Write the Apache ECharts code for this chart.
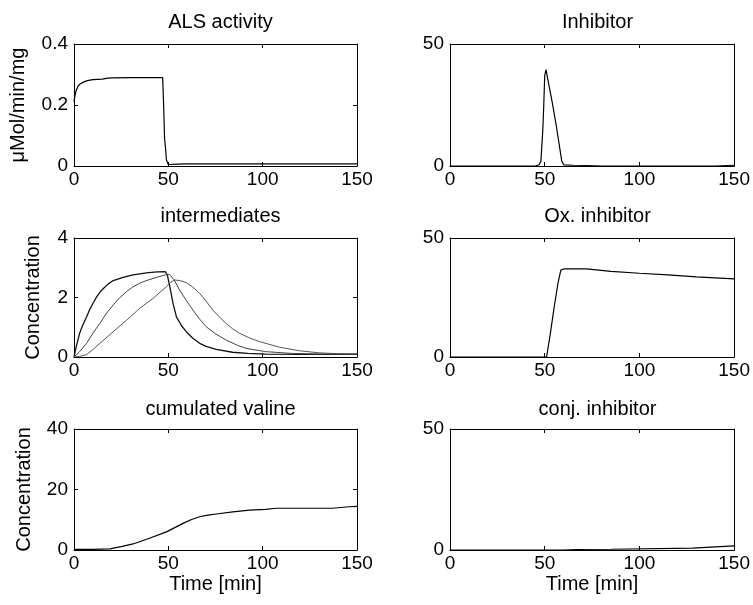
<!DOCTYPE html>
<html>
<head>
<meta charset="utf-8">
<script src="https://cdn.jsdelivr.net/npm/echarts@6/dist/echarts.min.js"></script>
<style>
html,body{margin:0;padding:0;background:#fff;}
#chart{width:753px;height:605px;}
</style>
</head>
<body>
<div id="chart"></div>
<script>
// ---- data ----
const panelTitles = ["ALS activity", "Inhibitor", "intermediates", "Ox. inhibitor", "cumulated valine", "conj. inhibitor"];
const xTicks = [0, 50, 100, 150];

const alsT = [0, 0.5, 1, 2, 3, 5, 7, 10, 15, 18, 20, 30, 40, 47, 47.5, 48, 48.5, 49, 50, 51, 55, 60, 100, 150];
const alsV = [0.21, 0.23, 0.245, 0.26, 0.268, 0.275, 0.28, 0.283, 0.285, 0.288, 0.289, 0.29, 0.29, 0.29, 0.2, 0.09, 0.06, 0.02, 0.005, 0.004, 0.006, 0.007, 0.007, 0.007];

const inhT = [0, 45, 47, 48, 49, 49.5, 50, 50.7, 51.5, 52.5, 54, 56, 58, 59, 60, 65, 72, 80, 140, 150];
const inhV = [0, 0, 0.5, 2, 15, 25, 37, 39.5, 36, 32, 26, 17, 7, 2, 0.5, 0.3, 0.2, 0, 0, 0.3];

const int1T = [0, 1, 2, 3, 4.5, 6.7, 8, 10, 12, 14, 16, 18, 20.8, 26, 31.3, 38.4, 44, 48.4, 49.5, 50.8, 52.5, 54.3, 57, 59.5, 63, 66.6, 70, 75.4, 84, 92, 101.6, 120, 150];
const int1V = [0, 0.3, 0.55, 0.8, 1.05, 1.35, 1.55, 1.8, 2.02, 2.2, 2.33, 2.45, 2.57, 2.68, 2.76, 2.83, 2.86, 2.87, 2.75, 2.36, 1.8, 1.35, 1.05, 0.85, 0.63, 0.46, 0.36, 0.26, 0.16, 0.12, 0.1, 0.09, 0.09];
const int2T = [0, 3, 6.7, 10, 13.7, 17, 20.8, 24, 27.9, 31, 34.9, 38, 41.9, 45, 48.4, 50.5, 53, 56, 59.5, 63, 66.5, 70, 75, 80.6, 86, 91.2, 101.6, 115.8, 130, 150];
const int2V = [0, 0.18, 0.46, 0.8, 1.13, 1.45, 1.75, 1.98, 2.2, 2.35, 2.48, 2.56, 2.64, 2.7, 2.76, 2.78, 2.6, 2.25, 1.9, 1.58, 1.28, 1.02, 0.78, 0.57, 0.41, 0.29, 0.18, 0.12, 0.1, 0.1];
const int3T = [0, 3, 6.7, 10, 13.7, 20.8, 27.9, 34.9, 41.9, 48.9, 51, 53.3, 56, 59.5, 63, 66.6, 70, 73.6, 77, 80.6, 84, 87.7, 93, 98.2, 108.8, 119.4, 130, 140, 150];
const int3V = [0, 0.02, 0.08, 0.25, 0.46, 0.85, 1.24, 1.64, 1.97, 2.36, 2.5, 2.59, 2.57, 2.5, 2.35, 2.14, 1.88, 1.58, 1.35, 1.13, 0.95, 0.8, 0.64, 0.52, 0.33, 0.21, 0.14, 0.11, 0.1];

const oxT = [0, 51, 53, 55, 57, 58.5, 60, 72, 85, 100, 115, 130, 150];
const oxV = [0, 0, 10, 21, 31, 36.5, 37, 37, 36, 35.2, 34.5, 33.7, 32.8];

const valT = [0, 10, 19, 25, 31.3, 40, 49, 57.8, 62, 66.6, 71, 75.4, 84.2, 93, 101.6, 107, 137, 145.8, 150];
const valV = [0.2, 0.2, 0.4, 1.1, 2, 3.9, 6, 8.8, 10, 11, 11.5, 11.9, 12.6, 13.2, 13.4, 13.8, 13.8, 14.3, 14.4];

const conjT = [0, 60, 67, 85, 86, 128, 129, 150];
const conjV = [0, 0, 0.2, 0.3, 0.7, 0.8, 1.6, 1.7];

const yRanges = [[0, 0.4, 0.2], [0, 50, 50], [0, 4, 2], [0, 50, 50], [0, 40, 20], [0, 50, 50]];
const yNames = ["μMol/min/mg", "", "Concentration", "", "Concentration", ""];

// ---- layout ----
const FONT = "Liberation Sans";
const FS = 19;
const FT = 20;
const cols = [{left: 74, width: 283}, {left: 450, width: 285}];
const rows = [{top: 44, height: 122}, {top: 238, height: 119}, {top: 429, height: 121}];
const titleTop = [7, 201, 394];
const yNameGap = [46, 0, 31, 0, 40, 0];

function zip(t, v) { return t.map((x, i) => [x, v[i]]); }

const grids = [], xAxes = [], yAxes = [], titles = [], series = [];
const axisLine = {show: true, onZero: false, lineStyle: {color: '#000', width: 1}};
const tick = {show: true, inside: true, length: 4, lineStyle: {color: '#000', width: 1}};
const lbl = {color: '#000', fontFamily: FONT, fontSize: FS};

for (let i = 0; i < 6; i++) {
  const c = cols[i % 2], r = rows[Math.floor(i / 2)];
  grids.push({left: c.left, top: r.top, width: c.width, height: r.height, containLabel: false});
  titles.push({
    text: panelTitles[i], left: c.left + c.width / 2, top: titleTop[Math.floor(i / 2)], textAlign: 'center',
    textStyle: {fontFamily: FONT, fontSize: FT, fontWeight: 'normal', color: '#000'}
  });
  const isBottom = i >= 4;
  xAxes.push({
    gridIndex: i, type: 'value', min: 0, max: 150, interval: 50, position: 'bottom',
    axisLine: axisLine, axisTick: tick, splitLine: {show: false},
    axisLabel: Object.assign({margin: 4, showMinLabel: true, showMaxLabel: true}, lbl),
    name: isBottom ? 'Time [min]' : '', nameLocation: 'middle', nameGap: 24,
    nameTextStyle: {fontFamily: FONT, fontSize: FT, color: '#000'}
  });
  xAxes.push({
    gridIndex: i, type: 'value', min: 0, max: 150, interval: 50, position: 'top',
    axisLine: axisLine, axisTick: tick, splitLine: {show: false}, axisLabel: {show: false}
  });
  const yr = yRanges[i];
  yAxes.push({
    gridIndex: i, type: 'value', min: yr[0], max: yr[1], interval: yr[2], position: 'left',
    axisLine: axisLine, axisTick: tick, splitLine: {show: false},
    axisLabel: Object.assign({margin: 6}, lbl),
    name: yNames[i], nameLocation: 'middle', nameGap: yNameGap[i], nameRotate: 90,
    nameTextStyle: {fontFamily: FONT, fontSize: FT, color: '#000'}
  });
  yAxes.push({
    gridIndex: i, type: 'value', min: yr[0], max: yr[1], interval: yr[2], position: 'right',
    axisLine: axisLine, axisTick: tick, splitLine: {show: false}, axisLabel: {show: false}
  });
}

function addLine(i, t, v, color, w) {
  series.push({
    type: 'line', xAxisIndex: i * 2, yAxisIndex: i * 2, data: zip(t, v),
    showSymbol: false, symbol: 'none', smooth: false,
    lineStyle: {color: color, width: w}, animation: false, silent: true
  });
}
addLine(0, alsT, alsV, '#000', 1.2);
addLine(1, inhT, inhV, '#000', 1.2);
addLine(2, int1T, int1V, '#111', 1.3);
addLine(2, int2T, int2V, '#444', 1);
addLine(2, int3T, int3V, '#555', 1);
addLine(3, oxT, oxV, '#000', 1.2);
addLine(4, valT, valV, '#000', 1.2);
addLine(5, conjT, conjV, '#000', 1.2);

const chart = echarts.init(document.getElementById('chart'), null, {renderer: 'canvas'});
chart.setOption({
  animation: false,
  backgroundColor: '#fff',
  title: titles, grid: grids, xAxis: xAxes, yAxis: yAxes, series: series
});
</script>
</body>
</html>
